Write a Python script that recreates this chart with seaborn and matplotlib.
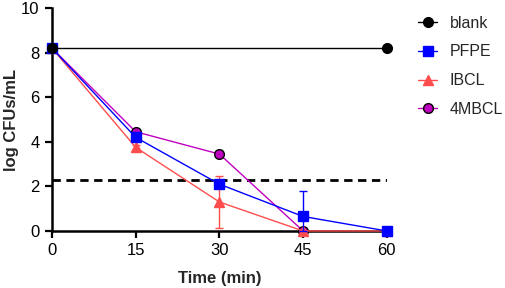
import matplotlib
matplotlib.use('Agg')
import matplotlib.pyplot as plt
import seaborn as sns
import pandas as pd

# data
times = [0, 15, 30, 45, 60]
blank_t = [0, 60]
blank = [8.2, 8.2]
pfpe = [8.2, 4.2, 2.1, 0.65, 0.0]
pfpe_err_lo = [0, 0, 0, 0.65, 0]
pfpe_err_hi = [0, 0, 0, 1.15, 0]
ibcl = [8.2, 3.75, 1.3, 0.0, 0.0]
ibcl_err = [0, 0.1, 1.15, 0, 0]
mbcl_t = [0, 15, 30, 45]
mbcl = [8.2, 4.45, 3.45, 0.0]
detect_limit = 2.3

sns.set_style('ticks')
plt.rcParams['font.family'] = ['Liberation Sans', 'DejaVu Sans']

fig = plt.figure(figsize=(5.05, 2.88), dpi=100)
ax = fig.add_axes([0.103, 0.198, 0.663, 0.774])

# name, x, y, (err lo, err hi), colour, marker, zorder
series = [
    ('blank', blank_t, blank, None, 'black', 'o', 6),
    ('PFPE', times, pfpe, (pfpe_err_lo, pfpe_err_hi), '#0000ff', 's', 5),
    ('IBCL', times, ibcl, (ibcl_err, ibcl_err), '#ff4d4d', '^', 4),
    ('4MBCL', mbcl_t, mbcl, None, '#c000c0', 'o', 3),
]

for name, t, y, err, col, mk, z in series:
    df = pd.DataFrame({'t': t, 'y': y})
    if err is not None:
        ax.errorbar(t, y, yerr=[err[0], err[1]], fmt='none', ecolor=col, elinewidth=1,
                    capsize=3, capthick=1, clip_on=False, zorder=z - 0.5)
    ec = 'black' if mk == 'o' else col
    sns.lineplot(data=df, x='t', y='y', ax=ax, color=col, marker=mk, markersize=7,
                 markeredgecolor=ec, markeredgewidth=1, linewidth=1, label=name,
                 clip_on=False, zorder=z)

ax.plot([0, 60], [detect_limit, detect_limit], color='black', linestyle='--',
        linewidth=2, dashes=(3, 2), zorder=2)

ax.set_xlim(0, 60)
ax.set_ylim(0, 10)
ax.set_xticks([0, 15, 30, 45, 60])
ax.set_yticks([0, 2, 4, 6, 8, 10])
ax.set_xlabel('Time (min)', fontsize=12, fontweight='bold', labelpad=9)
ax.set_ylabel('log CFUs/mL', fontsize=12, fontweight='bold')
ax.yaxis.set_label_coords(-0.098, 0.5)
ax.tick_params(labelsize=12, width=1.6, length=5, pad=4, color='black', labelcolor='black')
for s in ['left', 'bottom']:
    ax.spines[s].set_linewidth(1.8)
    ax.spines[s].set_color('black')
sns.despine(ax=ax)

ax.legend(loc='upper left', bbox_to_anchor=(1.05, 1.03), frameon=False,
          fontsize=11.5, handlelength=1.2, labelspacing=0.86, handletextpad=0.8)

fig.savefig('out.png', dpi=100)
